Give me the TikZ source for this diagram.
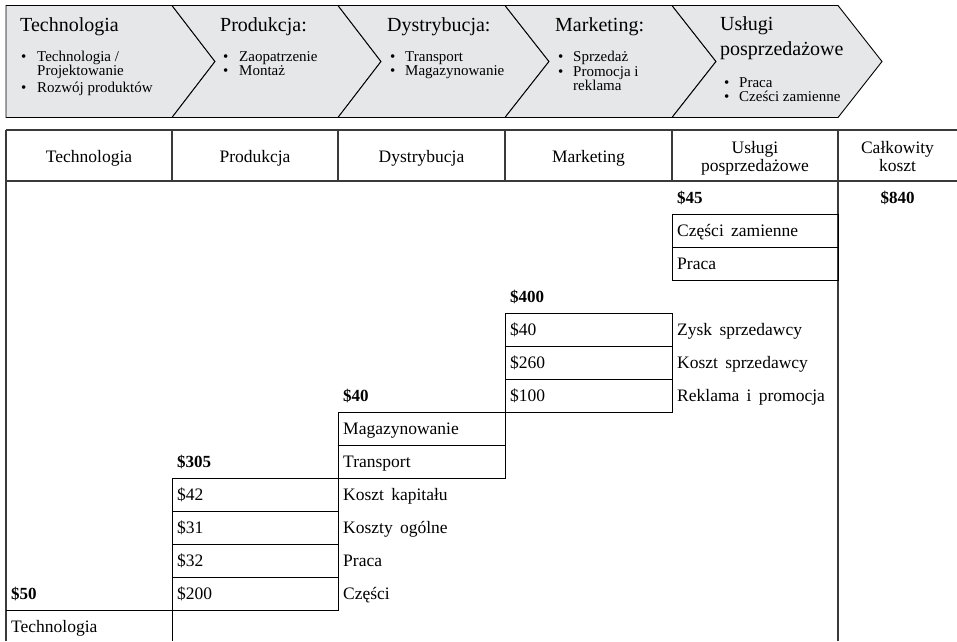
\documentclass[tikz,border=0pt]{standalone}
\usepackage{fontspec}
\setmainfont{Liberation Serif}
\definecolor{chevfill}{HTML}{E6E7E8}
\definecolor{rulegray}{HTML}{3A3A3A}
\newcommand{\cellfont}{\fontsize{17.5}{20}\selectfont\spaceskip=7.3pt\relax}
\begin{document}
\begin{tikzpicture}[x=1pt,y=-1pt,
  chev/.style={draw=black,line width=0.9pt,fill=chevfill,line join=miter},
  ctitle/.style={anchor=base west,inner sep=0pt,font=\fontsize{20}{24}\selectfont},
  citem/.style={anchor=base west,inner sep=0pt,font=\fontsize{15}{15}\selectfont},
  hdr/.style={anchor=base,inner sep=0pt,font=\fontsize{17.5}{20}\selectfont},
  cell/.style={anchor=base west,inner sep=0pt,font=\cellfont},
  total/.style={anchor=base west,inner sep=0pt,font=\fontsize{17}{20}\selectfont\bfseries},
  tabrule/.style={draw=rulegray,line width=1.3pt},
  cellbox/.style={draw=black,line width=1pt}]

\useasboundingbox (0,0) rectangle (957,641);

% ---- value chain chevrons ----
\path[chev] (6,5.5) -- (172,5.5) -- (215,61.5) -- (172,117.5) -- (6,117.5) -- cycle;
\path[chev] (172,5.5) -- (338,5.5) -- (381,61.5) -- (338,117.5) -- (172,117.5) -- (215,61.5) -- cycle;
\path[chev] (338,5.5) -- (505,5.5) -- (549,61.5) -- (505,117.5) -- (338,117.5) -- (381,61.5) -- cycle;
\path[chev] (505,5.5) -- (672,5.5) -- (716,61.5) -- (672,117.5) -- (505,117.5) -- (549,61.5) -- cycle;
\path[chev] (672,5.5) -- (838,5.5) -- (882,61.5) -- (838,117.5) -- (672,117.5) -- (716,61.5) -- cycle;

% chevron titles
\node[ctitle] (t1) at (20,31) {Technologia};
\node[ctitle] (t2) at (220,31) {Produkcja:};
\node[ctitle] (t3) at (387,31) {Dystrybucja:};
\node[ctitle] (t4) at (555,31) {Marketing:};
\node[ctitle] (t5a) at (720,30.5) {Usługi};
\node[ctitle] (t5b) at (720,55) {posprzedażowe};

% chevron bullet lists
\node[citem] (b1a) at (21,61) {•};
\node[citem] (i1a) at (37,61) {Technologia /};
\node[citem] (i1b) at (37,75.5) {Projektowanie};
\node[citem] (b1c) at (21,92.5) {•};
\node[citem] (i1c) at (37,92.5) {Rozwój produktów};

\node[citem] (b2a) at (223,61) {•};
\node[citem] (i2a) at (239,61) {Zaopatrzenie};
\node[citem] (b2b) at (223,75) {•};
\node[citem] (i2b) at (239,75) {Montaż};

\node[citem] (b3a) at (390,61) {•};
\node[citem] (i3a) at (405,61) {Transport};
\node[citem] (b3b) at (390,75) {•};
\node[citem] (i3b) at (405,75) {Magazynowanie};

\node[citem] (b4a) at (558,61.5) {•};
\node[citem] (i4a) at (573,61.5) {Sprzedaż};
\node[citem] (b4b) at (558,76) {•};
\node[citem] (i4b) at (573,76) {Promocja i};
\node[citem] (i4c) at (573,90.5) {reklama};

\node[citem] (b5a) at (724,87.5) {•};
\node[citem] (i5a) at (739,87.5) {Praca};
\node[citem] (b5b) at (724,101.5) {•};
\node[citem] (i5b) at (739,101.5) {Cześci zamienne};

% ---- cost table frame ----
\draw[tabrule] (6,130) -- (957,130);
\draw[tabrule] (6,181) -- (957,181);
\draw[tabrule] (6,130) -- (6,641);
\foreach \cx in {172,338,505,672} \draw[tabrule] (\cx,130) -- (\cx,181);
\draw[tabrule] (838,130) -- (838,641);

% header
\node[hdr] (h1) at (89,162) {Technologia};
\node[hdr] (h2) at (255,162) {Produkcja};
\node[hdr] (h3) at (421.5,162) {Dystrybucja};
\node[hdr] (h4) at (588.5,162) {Marketing};
\node[hdr] (h5a) at (755,153) {Usługi};
\node[hdr] (h5b) at (755,171) {posprzedażowe};
\node[hdr] (h6a) at (897.5,153) {Całkowity};
\node[hdr] (h6b) at (897.5,171) {koszt};

% cost boxes (row height 33, first body row at 181)
\draw[cellbox] (672,214) rectangle (838,247);
\draw[cellbox] (672,247) rectangle (838,280);
\draw[cellbox] (505,313) rectangle (672,346);
\draw[cellbox] (505,346) rectangle (672,379);
\draw[cellbox] (505,379) rectangle (672,412);
\draw[cellbox] (338,412) rectangle (505,445);
\draw[cellbox] (338,445) rectangle (505,478);
\draw[cellbox] (172,478) rectangle (338,511);
\draw[cellbox] (172,511) rectangle (338,544);
\draw[cellbox] (172,544) rectangle (338,577);
\draw[cellbox] (172,577) rectangle (338,610);
\draw[cellbox] (6,610) -- (172,610) -- (172,641);

% row 0
\node[total] (s45) at (677,203.5) {\$45};
\node[total,anchor=base] (s840) at (897.5,203.5) {\$840};
% after-sales service
\node[cell] (c51) at (677,236.5) {Części zamienne};
\node[cell] (c52) at (677,269.5) {Praca};
% marketing
\node[total] (s400) at (510,302.5) {\$400};
\node[cell] (m1) at (510,335.5) {\$40};
\node[cell] (m1t) at (677,335.5) {Zysk sprzedawcy};
\node[cell] (m2) at (510,368.5) {\$260};
\node[cell] (m2t) at (677,368.5) {Koszt sprzedawcy};
\node[cell] (m3) at (510,401.5) {\$100};
\node[cell] (m3t) at (677,401.5) {Reklama i promocja};
% distribution
\node[total] (s40) at (343,401.5) {\$40};
\node[cell] (d1) at (343,434.5) {Magazynowanie};
\node[cell] (d2) at (343,467.5) {Transport};
% production
\node[total] (s305) at (177,467.5) {\$305};
\node[cell] (p1) at (177,500.5) {\$42};
\node[cell] (p1t) at (343,500.5) {Koszt kapitału};
\node[cell] (p2) at (177,533.5) {\$31};
\node[cell] (p2t) at (343,533.5) {Koszty ogólne};
\node[cell] (p3) at (177,566.5) {\$32};
\node[cell] (p3t) at (343,566.5) {Praca};
\node[cell] (p4) at (177,599.5) {\$200};
\node[cell] (p4t) at (343,599.5) {Części};
% technology
\node[total] (s50) at (11,599.5) {\$50};
\node[cell] (tech) at (11,632.5) {Technologia};

\end{tikzpicture}
\end{document}
